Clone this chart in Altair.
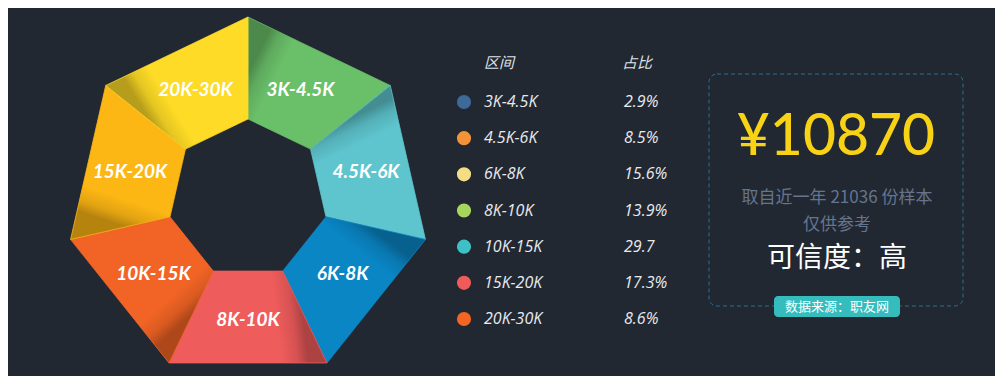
import math
import altair as alt
import pandas as pd

# ---- data ----
ranges = ["3K-4.5K", "4.5K-6K", "6K-8K", "8K-10K", "10K-15K", "15K-20K", "20K-30K"]
shares = ["2.9%", "8.5%", "15.6%", "13.9%", "29.7", "17.3%", "8.6%"]
slice_weights = [1, 1, 1, 1, 1, 1, 1]  # the ring shows 7 equal segments
segment_colors = ["#6abf69", "#5ec4cd", "#0a86c5", "#ef5c5c", "#f26425", "#fdb714", "#fedb26"]
legend_colors = ["#3d6a99", "#f39236", "#f4dd85", "#a6d65b", "#3ec1c6", "#ef5b5b", "#f26522"]
headers = ["区间", "占比"]
avg_salary = "¥10870"
note_lines = ["取自近一年 21036 份样本", "仅供参考"]
credibility = "可信度：高"
source = "数据来源：职友网"

BG = "#222832"
W, H = 987, 368
CX, CY = 240, 191
R_OUT, R_IN, R_LABEL = 182, 80, 121


def pt(r, a):
    return [CX + r * math.sin(a), CY - r * math.cos(a)]


def shade(hx, f):
    hx = hx.lstrip("#")
    r, g, b = (int(hx[k:k + 2], 16) for k in (0, 2, 4))
    return "#%02x%02x%02x" % (int(r * f), int(g * f), int(b * f))


proj = dict(type="identity", scale=1, translate=[0, 0])
layers = []
label_rows = []
total = sum(slice_weights)
cum = 0
for name, w, col in zip(ranges, slice_weights, segment_colors):
    a0 = 2 * math.pi * cum / total
    a1 = 2 * math.pi * (cum + w) / total
    cum += w
    o0, o1 = pt(R_OUT, a0), pt(R_OUT, a1)
    i0, i1 = pt(R_IN, a0), pt(R_IN, a1)
    ring = [o0, o1, i1, i0, o0]
    xs = [p[0] for p in ring]
    ys = [p[1] for p in ring]
    bx0, bx1, by0, by1 = min(xs), max(xs), min(ys), max(ys)
    s = [0.45 * o0[0] + 0.55 * i0[0], 0.45 * o0[1] + 0.55 * i0[1]]
    e = [0.5 * o1[0] + 0.5 * i1[0], 0.5 * o1[1] + 0.5 * i1[1]]
    nx = lambda v: (v - bx0) / (bx1 - bx0)
    ny = lambda v: (v - by0) / (by1 - by0)
    grad = alt.Gradient(
        gradient="linear",
        stops=[
            alt.GradientStop(color=shade(col, 0.72), offset=0),
            alt.GradientStop(color=shade(col, 0.90), offset=0.1),
            alt.GradientStop(color=col, offset=0.24),
            alt.GradientStop(color=col, offset=1),
        ],
        x1=nx(s[0]), y1=ny(s[1]), x2=nx(e[0]), y2=ny(e[1]),
    )
    feature = {
        "type": "Feature",
        "properties": {"range": name},
        "geometry": {"type": "Polygon", "coordinates": [ring]},
    }
    layers.append(
        alt.Chart(alt.Data(values=[feature]))
        .mark_geoshape(fill=grad, stroke=col, strokeWidth=0.8, strokeJoin="round")
        .project(**proj)
    )
    am = (a0 + a1) / 2
    lp = pt(R_LABEL, am)
    label_rows.append({"range": name, "lx": lp[0], "ly": lp[1]})

labels = (
    alt.Chart(pd.DataFrame(label_rows))
    .mark_text(font="Lato", fontStyle="italic", fontWeight="bold", fontSize=19, color="#ffffff")
    .encode(longitude="lx:Q", latitude="ly:Q", text="range:N")
    .project(**proj)
)

table = pd.DataFrame({"range": ranges, "share": shares, "dot": legend_colors})
yrow = alt.Y("range:N", sort=ranges, axis=None,
             scale=alt.Scale(type="point", domain=ranges, range=[94, 311], padding=0))
base = alt.Chart(table)
dots = base.mark_circle(size=200, opacity=1).encode(
    x=alt.value(456), y=yrow, color=alt.Color("dot:N", scale=None))
rng_txt = base.mark_text(align="left", baseline="middle", font="Open Sans", fontStyle="italic",
                         fontSize=16, color="#e8eaee").encode(x=alt.value(476), y=yrow, text="range:N")
shr_txt = base.mark_text(align="left", baseline="middle", font="Open Sans", fontStyle="italic",
                         fontSize=16, color="#e8eaee").encode(x=alt.value(616), y=yrow, text="share:N")

hdr = pd.DataFrame({"h": headers, "hx": [476, 614]})
hdr_txt = alt.Chart(hdr).mark_text(align="left", baseline="middle", font="Noto Sans CJK SC",
                                   fontStyle="italic", fontSize=15, color="#dde1e8").encode(
    x=alt.X("hx:Q", scale=None, axis=None), y=alt.value(55), text="h:N")

box = alt.Chart(pd.DataFrame({"k": [0]})).mark_rect(
    fillOpacity=0, stroke="#2a6d8c", strokeWidth=1, strokeDash=[4, 3], cornerRadius=8
).encode(x=alt.value(701), x2=alt.value(955), y=alt.value(66), y2=alt.value(298))

big = alt.Chart(pd.DataFrame({"t": [avg_salary]})).mark_text(
    font="Lato", fontSize=57, fontWeight=500, color="#f7d215", baseline="middle", align="center"
).encode(x=alt.value(828), y=alt.value(130), text="t:N")

notes = alt.Chart(pd.DataFrame({"t": note_lines, "ny": [190, 217]})).mark_text(
    font="Noto Sans CJK SC", fontSize=17, color="#65758f", baseline="middle", align="center"
).encode(x=alt.value(829), y=alt.Y("ny:Q", scale=None, axis=None), text="t:N")

cred = alt.Chart(pd.DataFrame({"t": [credibility]})).mark_text(
    font="Noto Sans CJK SC", fontSize=28, color="#ffffff", baseline="middle", align="center"
).encode(x=alt.value(829), y=alt.value(251), text="t:N")

badge = alt.Chart(pd.DataFrame({"k": [0]})).mark_rect(
    fill="#35bcbc", cornerRadius=4
).encode(x=alt.value(766), x2=alt.value(892), y=alt.value(288), y2=alt.value(309))

badge_txt = alt.Chart(pd.DataFrame({"t": [source]})).mark_text(
    font="Noto Sans CJK SC", fontSize=13, color="#ffffff", baseline="middle", align="center"
).encode(x=alt.value(829), y=alt.value(298.5), text="t:N")

chart = alt.layer(
    *layers, labels, dots, rng_txt, shr_txt, hdr_txt, box, big, notes, cred, badge, badge_txt
).properties(
    width=W, height=H, padding=0,
    autosize=alt.AutoSizeParams(type="none"),
    background=BG,
).configure_view(strokeWidth=0)

chart.save("out.html", embed_options={"renderer": "svg", "actions": False})
